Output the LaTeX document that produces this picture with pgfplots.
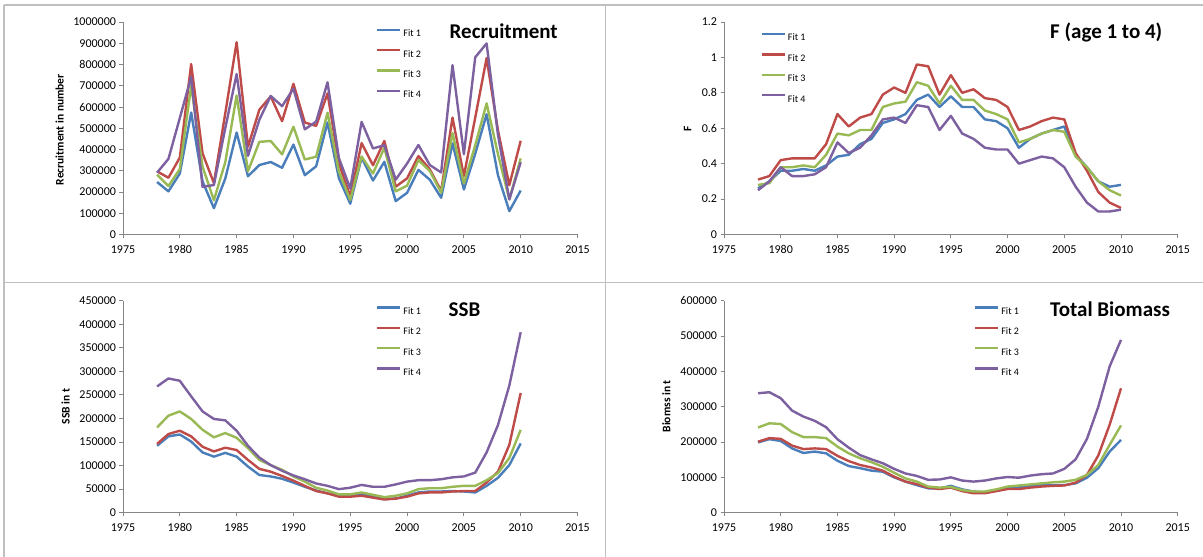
\documentclass[border=0pt]{standalone}
\usepackage{pgfplots}
\pgfplotsset{compat=1.18}
\usepackage{pgfplotstable}
\usepackage{fontspec}
\setmainfont{Carlito}

\definecolor{c1}{HTML}{4A7EBB}
\definecolor{c2}{HTML}{BE4B48}
\definecolor{c3}{HTML}{98B954}
\definecolor{c4}{HTML}{7D60A0}
\definecolor{axgray}{HTML}{868686}
\definecolor{framegray}{HTML}{BFBFBF}

\newcommand{\tickfont}{\fontsize{12}{12}\selectfont}
\newcommand{\legfont}{\fontsize{10}{10}\selectfont}
\newcommand{\labfont}{\bfseries\fontsize{11.5}{11.5}\selectfont}
\newcommand{\titfont}{\bfseries\fontsize{21}{21}\selectfont}

\pgfplotstableread{
year f1 f2 f3 f4
1978 247000 297000 281000 291000
1979 203000 267000 228000 356000
1980 287000 362000 308000 548000
1981 574000 802000 700000 742000
1982 250000 382000 320000 224000
1983 124000 242000 161000 233000
1984 263000 570000 340000 500000
1985 480000 905000 654000 755000
1986 274000 413000 298000 370000
1987 327000 587000 436000 540000
1988 341000 650000 440000 652000
1989 314000 533000 377000 604000
1990 423000 709000 507000 686000
1991 279000 527000 353000 495000
1992 321000 511000 366000 531000
1993 527000 664000 573000 716000
1994 265000 335000 296000 360000
1995 145000 180000 163000 216000
1996 362000 430000 367000 530000
1997 254000 326000 287000 405000
1998 342000 440000 408000 420000
1999 157000 225000 203000 258000
2000 196000 264000 230000 334000
2001 304000 369000 350000 421000
2002 258000 307000 299000 327000
2003 173000 205000 197000 292000
2004 429000 550000 477000 797000
2005 212000 275000 240000 378000
2006 380000 550000 420000 834000
2007 566000 830000 617000 899000
2008 279000 490000 378000 470000
2009 110000 232000 165000 165000
2010 207000 441000 358000 340000
}\recruit

\pgfplotstableread{
year f1 f2 f3 f4
1978 0.26 0.31 0.28 0.25
1979 0.30 0.33 0.29 0.30
1980 0.36 0.42 0.38 0.38
1981 0.36 0.43 0.38 0.33
1982 0.37 0.43 0.39 0.33
1983 0.36 0.43 0.38 0.34
1984 0.39 0.51 0.45 0.38
1985 0.44 0.68 0.57 0.52
1986 0.45 0.61 0.56 0.46
1987 0.51 0.66 0.59 0.49
1988 0.54 0.68 0.59 0.56
1989 0.63 0.79 0.72 0.65
1990 0.65 0.83 0.74 0.66
1991 0.68 0.80 0.75 0.63
1992 0.76 0.96 0.86 0.73
1993 0.79 0.95 0.84 0.72
1994 0.72 0.79 0.74 0.59
1995 0.78 0.90 0.84 0.67
1996 0.72 0.80 0.76 0.57
1997 0.72 0.82 0.76 0.54
1998 0.65 0.77 0.70 0.49
1999 0.64 0.76 0.68 0.48
2000 0.60 0.72 0.65 0.48
2001 0.49 0.59 0.52 0.40
2002 0.54 0.61 0.54 0.42
2003 0.57 0.64 0.57 0.44
2004 0.59 0.66 0.59 0.43
2005 0.61 0.65 0.58 0.38
2006 0.45 0.46 0.44 0.27
2007 0.38 0.36 0.38 0.18
2008 0.30 0.24 0.30 0.13
2009 0.27 0.18 0.25 0.13
2010 0.28 0.15 0.22 0.14
}\fdata

\pgfplotstableread{
year f1 f2 f3 f4
1978 142000 146000 181000 268000
1979 162000 167000 206000 285000
1980 166000 174000 215000 280000
1981 151000 162000 199000 247000
1982 128000 140000 176000 215000
1983 119000 130000 160000 199000
1984 127000 138000 169000 196000
1985 119000 133000 159000 174000
1986 98000 112000 137000 142000
1987 80000 93000 112000 117000
1988 77000 87000 101000 101000
1989 72000 78000 91000 89000
1990 64000 68000 77000 79000
1991 55000 57000 66000 71000
1992 47000 46000 53000 62000
1993 41000 41000 47000 57000
1994 36000 34000 39000 50000
1995 36000 34000 39000 53000
1996 39000 36000 43000 59000
1997 34000 32000 38000 55000
1998 29000 28000 33000 55000
1999 30000 30000 36000 60000
2000 36000 34000 41000 66000
2001 43000 41000 50000 69000
2002 45000 43000 52000 69000
2003 45000 43000 52000 71000
2004 46000 45000 55000 75000
2005 45000 46000 57000 77000
2006 43000 46000 57000 85000
2007 57000 64000 69000 128000
2008 74000 87000 84000 186000
2009 101000 144000 116000 270000
2010 147000 254000 176000 383000
}\ssb

\pgfplotstableread{
year f1 f2 f3 f4
1978 199000 201000 241000 338000
1979 208000 211000 253000 341000
1980 203000 209000 251000 324000
1981 182000 190000 228000 289000
1982 169000 180000 214000 272000
1983 173000 182000 214000 260000
1984 168000 180000 211000 242000
1985 147000 161000 187000 208000
1986 132000 146000 168000 184000
1987 126000 135000 154000 163000
1988 119000 128000 143000 151000
1989 116000 119000 130000 140000
1990 100000 102000 113000 124000
1991 88000 88000 97000 111000
1992 78000 81000 88000 104000
1993 69000 71000 74000 93000
1994 69000 67000 71000 94000
1995 76000 71000 73000 100000
1996 66000 61000 64000 91000
1997 60000 55000 60000 88000
1998 57000 55000 60000 91000
1999 64000 61000 66000 97000
2000 71000 67000 74000 101000
2001 73000 67000 77000 99000
2002 76000 71000 80000 105000
2003 78000 74000 83000 109000
2004 78000 76000 86000 111000
2005 78000 77000 88000 124000
2006 83000 85000 93000 151000
2007 99000 107000 107000 209000
2008 126000 162000 135000 300000
2009 173000 249000 192000 414000
2010 206000 352000 247000 489000
}\tbio

\pgfplotsset{
  panel/.style={
    scale only axis,
    axis lines*=left,
    axis line style={draw=axgray, line width=0.9pt, -},
    tick style={draw=axgray, line width=0.9pt},
    tick align=outside,
    major tick length=3.5pt,
    xmin=1975, xmax=2015, ymin=0,
    xtick={1975,1980,...,2015},
    minor tick num=0,
    scaled y ticks=false,
    /pgf/number format/assume math mode=true,
    /pgf/number format/fixed,
    /pgf/number format/1000 sep={},
    xticklabel style={font=\tickfont, text=black, yshift=-4pt},
    yticklabel style={font=\tickfont, text=black},
    ylabel style={font=\labfont, anchor=center},
    legend style={draw=none, fill=none, font=\legfont, anchor=north west,
      inner sep=0pt, outer sep=0pt, row sep=11.3pt, column sep=1pt,
      nodes={inner sep=1pt, text height=7pt, text depth=0pt}},
    legend cell align=left,
    legend image code/.code={\draw[##1, line width=2.4pt] (0pt,3.4pt) -- (23pt,3.4pt);},
    every axis plot/.append style={line width=2.4pt, line join=round, no markers},
  }
}

\begin{document}
\begin{tikzpicture}[x=1pt,y=1pt]
\path[use as bounding box] (0,0) rectangle (1203,557);
% frame lines
\draw[framegray, line width=1.5pt] (4,552) -- (1203,552);
\draw[framegray, line width=1.5pt] (4,552) -- (4,0);
\draw[framegray, line width=1.5pt] (605.7,552) -- (605.7,0);
\draw[framegray, line width=1.5pt] (4,274.3) -- (1203,274.3);

% Recruitment
\begin{axis}[panel, at={(123pt,322.5pt)}, anchor=south west,
  width=454.5pt, height=212.5pt,
  ymax=1000000, ytick={0,100000,...,1000000},
  ylabel={Recruitment in number},
  ylabel style={at={(axis description cs:-0.1397,0.493)}},
  legend style={at={(axis description cs:0.5567,0.969)}}]
\addplot[c1] table[x=year,y=f1] {\recruit};
\addplot[c2] table[x=year,y=f2] {\recruit};
\addplot[c3] table[x=year,y=f3] {\recruit};
\addplot[c4] table[x=year,y=f4] {\recruit};
\legend{Fit 1,Fit 2,Fit 3,Fit 4}
\end{axis}

% F
\begin{axis}[panel, at={(724pt,322.5pt)}, anchor=south west,
  width=453.7pt, height=212.5pt,
  ymax=1.2, ytick={0,0.2,0.4,0.6,0.8,1,1.2},
  ylabel={F},
  ylabel style={at={(axis description cs:-0.080,0.497)}},
  legend style={at={(axis description cs:0.0805,0.949)}}]
\addplot[c1] table[x=year,y=f1] {\fdata};
\addplot[c2] table[x=year,y=f2] {\fdata};
\addplot[c3] table[x=year,y=f3] {\fdata};
\addplot[c4] table[x=year,y=f4] {\fdata};
\legend{Fit 1,Fit 2,Fit 3,Fit 4}
\end{axis}

% SSB
\begin{axis}[panel, at={(123pt,44.3pt)}, anchor=south west,
  width=454.5pt, height=212pt,
  ymax=450000, ytick={0,50000,...,450000},
  ylabel={SSB in t},
  ylabel style={at={(axis description cs:-0.126,0.502)}},
  legend style={at={(axis description cs:0.5567,0.974)}}]
\addplot[c1] table[x=year,y=f1] {\ssb};
\addplot[c2] table[x=year,y=f2] {\ssb};
\addplot[c3] table[x=year,y=f3] {\ssb};
\addplot[c4] table[x=year,y=f4] {\ssb};
\legend{Fit 1,Fit 2,Fit 3,Fit 4}
\end{axis}

% Total biomass
\begin{axis}[panel, at={(724pt,44.3pt)}, anchor=south west,
  width=453.7pt, height=212pt,
  ymax=600000, ytick={0,100000,...,600000},
  ylabel={Biomss in t},
  ylabel style={at={(axis description cs:-0.127,0.502)}},
  legend style={at={(axis description cs:0.551,0.974)}}]
\addplot[c1] table[x=year,y=f1] {\tbio};
\addplot[c2] table[x=year,y=f2] {\tbio};
\addplot[c3] table[x=year,y=f3] {\tbio};
\addplot[c4] table[x=year,y=f4] {\tbio};
\legend{Fit 1,Fit 2,Fit 3,Fit 4}
\end{axis}

% titles
\node[font=\titfont, anchor=base west, inner sep=0pt] at (449.5,518) {Recruitment};
\node[font=\titfont, anchor=base west, inner sep=0pt] at (1050,518) {F (age 1 to 4)};
\node[font=\titfont, anchor=base west, inner sep=0pt] at (448.5,240) {SSB};
\node[font=\titfont, anchor=base west, inner sep=0pt] at (1050,240) {Total Biomass};
\end{tikzpicture}
\end{document}
